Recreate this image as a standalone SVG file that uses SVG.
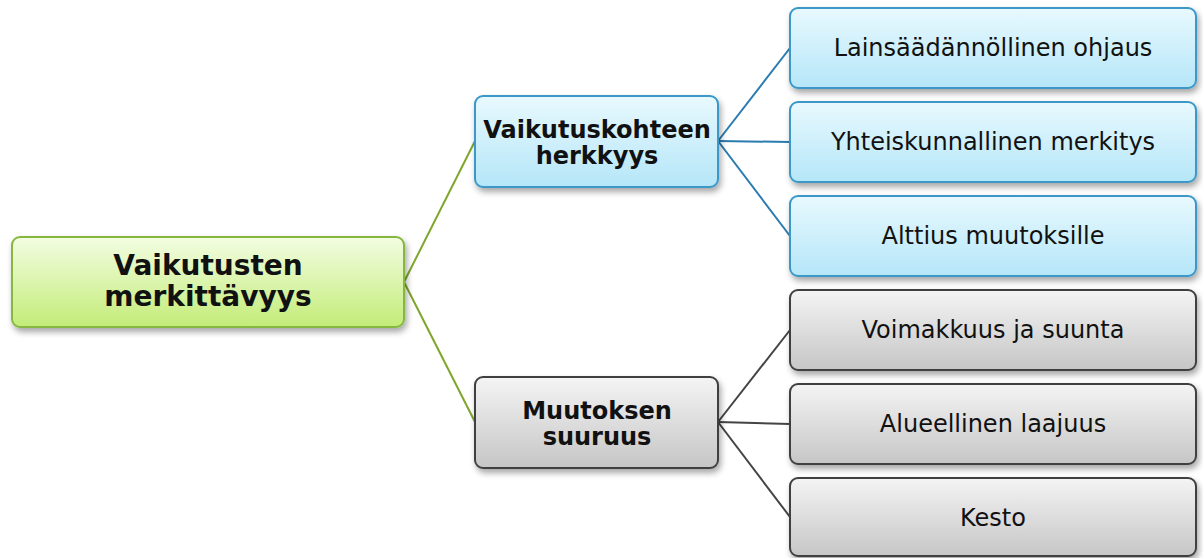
<svg xmlns="http://www.w3.org/2000/svg" width="1203" height="558" viewBox="0 0 1203 558">
<defs>
<linearGradient id="gGreen" x1="0" y1="0" x2="0" y2="1"><stop offset="0" stop-color="#f3fde2"/><stop offset="1" stop-color="#c3ec78"/></linearGradient>
<linearGradient id="gBlue" x1="0" y1="0" x2="0" y2="1"><stop offset="0" stop-color="#e8f9fe"/><stop offset="1" stop-color="#b5e6f8"/></linearGradient>
<linearGradient id="gGray" x1="0" y1="0" x2="0" y2="1"><stop offset="0" stop-color="#f4f4f4"/><stop offset="1" stop-color="#c6c6c6"/></linearGradient>
<filter id="sh" x="-10%" y="-20%" width="125%" height="150%"><feDropShadow dx="2" dy="4" stdDeviation="3" flood-color="#000" flood-opacity="0.35"/></filter>
</defs>
<style>
.root{fill:url(#gGreen);stroke:#86b840;stroke-width:2}
.blue{fill:url(#gBlue);stroke:#3a98c8;stroke-width:2}
.gray{fill:url(#gGray);stroke:#404040;stroke-width:2}
.b{font-family:"DejaVu Sans",Verdana,sans-serif;font-weight:bold;fill:#111;text-anchor:middle}
.r{font-family:"DejaVu Sans",Verdana,sans-serif;font-size:24px;fill:#111;text-anchor:middle}
.cg{stroke:#7fa52a;stroke-width:2;fill:none}
.cb{stroke:#2a7cb0;stroke-width:2;fill:none}
.ck{stroke:#444;stroke-width:2;fill:none}
</style>
<rect width="1203" height="558" fill="#fff"/>
<g id="connectors">
<path class="cg" d="M404 282 L475 141"/>
<path class="cg" d="M404 282 L475 422"/>
<path class="cb" d="M718 141 L790 48"/>
<path class="cb" d="M718 141 L790 142"/>
<path class="cb" d="M718 141 L790 236"/>
<path class="ck" d="M718 422 L790 330"/>
<path class="ck" d="M718 422 L790 424"/>
<path class="ck" d="M718 422 L790 517"/>
</g>
<g id="root">
<rect class="root" x="12" y="237" width="392" height="90" rx="8" filter="url(#sh)"/>
<text class="b" font-size="28"><tspan x="208" y="275">Vaikutusten</tspan><tspan x="208" y="306">merkittävyys</tspan></text>
</g>
<g id="herkkyys">
<rect class="blue" x="475" y="96" width="243" height="91" rx="8" filter="url(#sh)"/>
<text class="b" font-size="24"><tspan x="597" y="138">Vaikutuskohteen</tspan><tspan x="597" y="164">herkkyys</tspan></text>
</g>
<g id="suuruus">
<rect class="gray" x="475" y="377" width="243" height="91" rx="8" filter="url(#sh)"/>
<text class="b" font-size="24"><tspan x="597" y="419">Muutoksen</tspan><tspan x="597" y="445">suuruus</tspan></text>
</g>
<g id="leaf1">
<rect class="blue" x="790" y="8" width="406" height="80" rx="8" filter="url(#sh)"/>
<text class="r" x="993" y="56">Lainsäädännöllinen ohjaus</text>
</g>
<g id="leaf2">
<rect class="blue" x="790" y="102" width="406" height="80" rx="8" filter="url(#sh)"/>
<text class="r" x="993" y="150">Yhteiskunnallinen merkitys</text>
</g>
<g id="leaf3">
<rect class="blue" x="790" y="196" width="406" height="80" rx="8" filter="url(#sh)"/>
<text class="r" x="993" y="244">Alttius muutoksille</text>
</g>
<g id="leaf4">
<rect class="gray" x="790" y="290" width="406" height="80" rx="8" filter="url(#sh)"/>
<text class="r" x="993" y="338">Voimakkuus ja suunta</text>
</g>
<g id="leaf5">
<rect class="gray" x="790" y="384" width="406" height="80" rx="8" filter="url(#sh)"/>
<text class="r" x="993" y="432">Alueellinen laajuus</text>
</g>
<g id="leaf6">
<rect class="gray" x="790" y="478" width="406" height="78" rx="8" filter="url(#sh)"/>
<text class="r" x="993" y="526">Kesto</text>
</g>
</svg>
